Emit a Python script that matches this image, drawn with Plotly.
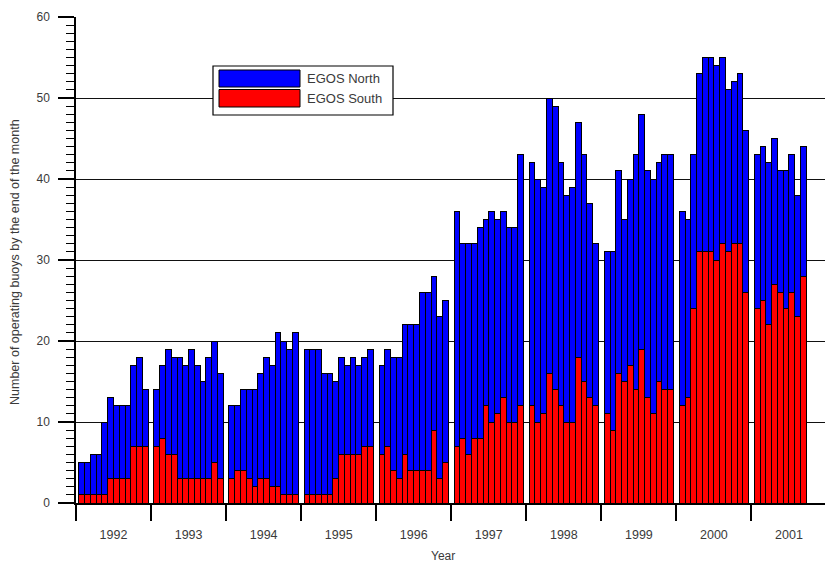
import plotly.graph_objects as go

# ---------------- data ----------------
years = [1992, 1993, 1994, 1995, 1996, 1997, 1998, 1999, 2000, 2001]
months_in_year = [12, 12, 12, 12, 12, 12, 12, 12, 12, 9]

egos_south = [
    1, 1, 1, 1, 1, 3, 3, 3, 3, 7, 7, 7,          # 1992
    7, 8, 6, 6, 3, 3, 3, 3, 3, 3, 5, 3,          # 1993
    3, 4, 4, 3, 2, 3, 3, 2, 2, 1, 1, 1,          # 1994
    1, 1, 1, 1, 1, 3, 6, 6, 6, 6, 7, 7,          # 1995
    6, 7, 4, 3, 6, 4, 4, 4, 4, 9, 3, 5,          # 1996
    7, 8, 6, 8, 8, 12, 10, 11, 13, 10, 10, 12,   # 1997
    12, 10, 11, 16, 14, 12, 10, 10, 18, 15, 13, 12,  # 1998
    11, 9, 16, 15, 17, 14, 19, 13, 11, 15, 14, 14,   # 1999
    12, 13, 24, 31, 31, 31, 30, 32, 31, 32, 32, 26,  # 2000
    24, 25, 22, 27, 26, 24, 26, 23, 28,              # 2001
]

egos_north = [
    4, 4, 5, 5, 9, 10, 9, 9, 9, 10, 11, 7,            # 1992
    7, 9, 13, 12, 15, 14, 16, 14, 12, 15, 15, 13,     # 1993
    9, 8, 10, 11, 12, 13, 15, 15, 19, 19, 18, 20,     # 1994
    18, 18, 18, 15, 15, 12, 12, 11, 12, 11, 11, 12,   # 1995
    11, 12, 14, 15, 16, 18, 18, 22, 22, 19, 20, 20,   # 1996
    29, 24, 26, 24, 26, 23, 26, 24, 23, 24, 24, 31,   # 1997
    30, 30, 28, 34, 35, 30, 28, 29, 29, 28, 24, 20,   # 1998
    20, 22, 25, 20, 23, 29, 29, 28, 29, 27, 29, 29,   # 1999
    24, 22, 19, 22, 24, 24, 24, 23, 20, 20, 21, 20,   # 2000
    19, 19, 20, 18, 15, 17, 17, 15, 16,               # 2001
]

y_ticks = [0, 10, 20, 30, 40, 50, 60]

# ---------------- layout helpers ----------------
W, H = 825, 563
ML, MR, MT, MB = 76, 0, 17, 60
PW, PH = W - ML - MR, H - MT - MB
SLOTS = 13                      # 12 months + 1 gap slot per year
UNIT = 75.05 / SLOTS            # px per slot


def px_x(p):
    return (p - ML) / PW


def px_y(p):
    return (H - MB - p) / PH


# month positions on a numeric axis (year k occupies [13k, 13k+13])
xs = []
for k, n in enumerate(months_in_year):
    xs += [SLOTS * k + 1 + m for m in range(n)]

font_family = "Liberation Sans, Arial, sans-serif"
txt_col = "#3a3a3a"

fig = go.Figure()
fig.add_trace(go.Bar(
    x=xs, y=egos_south, width=1, name="EGOS South",
    marker=dict(color="#ff0000", line=dict(color="black", width=1)),
))
fig.add_trace(go.Bar(
    x=xs, y=egos_north, width=1, name="EGOS North",
    marker=dict(color="#0000ff", line=dict(color="black", width=1)),
))

fig.update_layout(
    width=W, height=H,
    margin=dict(l=ML, r=MR, t=MT, b=MB, pad=0),
    barmode="stack",
    showlegend=False,
    plot_bgcolor="white", paper_bgcolor="white",
    font=dict(family=font_family, size=12, color=txt_col),
)

fig.update_xaxes(
    range=[0, PW / UNIT],
    tickmode="array",
    tickvals=[SLOTS * k + 6.5 for k in range(len(years))],
    ticktext=[str(y) for y in years],
    ticks="", ticklabelstandoff=19,
    tickfont=dict(size=12.5, color=txt_col),
    showgrid=False, zeroline=False,
    showline=True, linecolor="black", linewidth=1.5,
    automargin=False,
    minor=dict(
        tickmode="array",
        tickvals=[SLOTS * k for k in range(len(years) + 1)],
        ticks="outside", ticklen=16, tickwidth=1.5, tickcolor="black",
        showgrid=False,
    ),
)

fig.update_yaxes(
    range=[0, 60],
    tickmode="array", tickvals=y_ticks,
    ticks="outside", ticklen=16, tickwidth=1.5, tickcolor="black",
    ticklabelstandoff=6,
    tickfont=dict(size=12, color=txt_col),
    showgrid=True, gridcolor="#111111", gridwidth=1.4,
    zeroline=False,
    showline=True, linecolor="black", linewidth=1.5,
    automargin=False,
    minor=dict(dtick=1, ticks="outside", ticklen=8, tickwidth=1,
               tickcolor="black", showgrid=False),
)

# axis titles
fig.add_annotation(
    text="Year", xref="paper", yref="paper",
    x=px_x(443), y=px_y(556), xanchor="center", yanchor="middle",
    showarrow=False, font=dict(size=12, color=txt_col),
)
fig.add_annotation(
    text="Number of operating buoys by the end of the month",
    xref="paper", yref="paper", textangle=-90,
    x=px_x(15), y=px_y(262), xanchor="center", yanchor="middle",
    showarrow=False, font=dict(size=12.5, color=txt_col),
)

# legend box (drawn manually to match the wide swatches)
fig.add_shape(type="rect", xref="paper", yref="paper",
              x0=px_x(213), x1=px_x(393), y0=px_y(115), y1=px_y(66),
              fillcolor="white", line=dict(color="black", width=1.2))
fig.add_shape(type="rect", xref="paper", yref="paper",
              x0=px_x(219), x1=px_x(300), y0=px_y(87), y1=px_y(70),
              fillcolor="#0000ff", line=dict(color="black", width=1))
fig.add_shape(type="rect", xref="paper", yref="paper",
              x0=px_x(219), x1=px_x(300), y0=px_y(107), y1=px_y(89.5),
              fillcolor="#ff0000", line=dict(color="black", width=1))
for label, yc in [("EGOS North", 78.5), ("EGOS South", 98.5)]:
    fig.add_annotation(text=label, xref="paper", yref="paper",
                       x=px_x(305), y=px_y(yc), xanchor="left", yanchor="middle",
                       showarrow=False, font=dict(size=13, color=txt_col))

fig.write_html(
    "out.html",
    config={"displayModeBar": False},
    post_script="document.body.style.margin='0px';document.body.style.overflow='hidden';",
)
